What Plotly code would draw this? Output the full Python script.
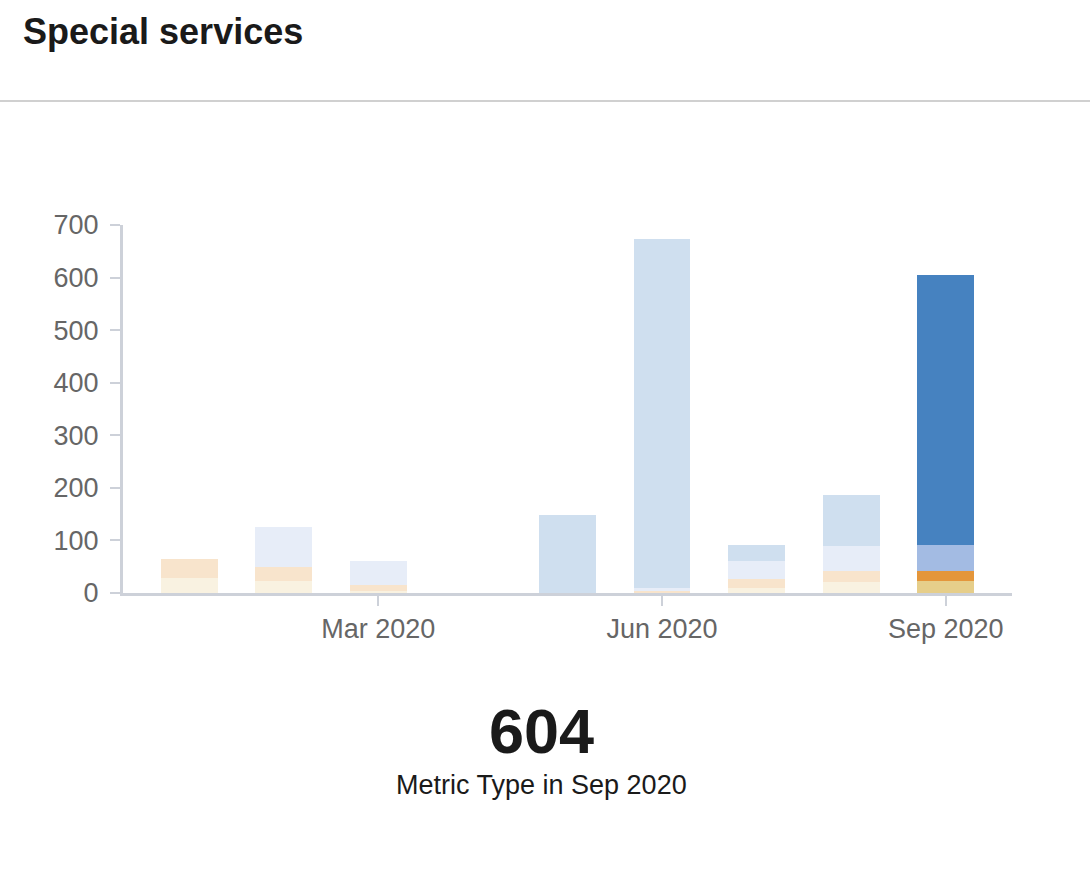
import plotly.graph_objects as go

months = ["Jan 2020", "Feb 2020", "Mar 2020", "Apr 2020", "May 2020",
          "Jun 2020", "Jul 2020", "Aug 2020", "Sep 2020"]
tick_labels = ["Mar 2020", "Jun 2020", "Sep 2020"]

series_names = ["Type A", "Type B", "Type C", "Type D"]
type_a = [29, 22, 3, 0, 0, 0, 10, 21, 23]
type_b = [36, 27, 12, 0, 0, 3, 16, 20, 19]
type_c = [0, 77, 46, 0, 0, 6, 34, 49, 49]
type_d = [0, 0, 0, 0, 148, 664, 31, 96, 513]
series_values = [type_a, type_b, type_c, type_d]
series_colors = ["#E6CE8A", "#E4963B", "#A3BBE3", "#4682C0"]

selected = months[-1]
opacities = [1.0 if m == selected else 0.26 for m in months]

fig = go.Figure()
for name, vals, col in zip(series_names, series_values, series_colors):
    fig.add_trace(go.Bar(
        x=months, y=vals, name=name,
        marker=dict(color=col, opacity=opacities, line=dict(width=0)),
    ))

total_selected = sum(s[-1] for s in series_values)

font_family = "Liberation Sans, Arial, sans-serif"
axis_col = "#CDD1D9"

fig.update_layout(
    width=1090, height=885,
    barmode="stack", bargap=0.4,
    showlegend=False,
    plot_bgcolor="white", paper_bgcolor="white",
    margin=dict(l=123, r=78, t=225, b=292),
    font=dict(family=font_family, color="#666666", size=27),
    xaxis=dict(
        type="category", range=[-0.7, 8.7],
        tickvals=tick_labels, ticktext=tick_labels,
        showline=True, linecolor=axis_col, linewidth=3,
        ticks="outside", ticklen=10, tickwidth=2, tickcolor=axis_col,
        showgrid=False, zeroline=False,
        tickfont=dict(size=27, color="#666666"),
    ),
    yaxis=dict(
        range=[0, 700], tickvals=[0, 100, 200, 300, 400, 500, 600, 700],
        showline=True, linecolor=axis_col, linewidth=3,
        ticks="outside", ticklen=10, tickwidth=2, tickcolor=axis_col,
        showgrid=False, zeroline=False,
        ticklabelstandoff=6,
        tickfont=dict(size=27, color="#666666"),
    ),
    shapes=[dict(
        type="line", xref="paper", yref="paper",
        x0=-0.14, x1=1.09, y0=1.337, y1=1.337,
        line=dict(color="#D0D0D0", width=2),
    )],
    annotations=[
        dict(text="<b>Special services</b>", xref="paper", yref="paper",
             x=-0.115, y=1.5245, xanchor="left", yanchor="middle",
             showarrow=False, font=dict(size=36, color="#1A1A1A", family=font_family)),
        dict(text=f"<b>{total_selected}</b>", xref="paper", yref="paper",
             x=0.4708, y=-0.375, xanchor="center", yanchor="middle",
             showarrow=False, font=dict(size=63, color="#1A1A1A", family=font_family)),
        dict(text=f"Metric Type in {selected[:3]} {selected[-4:]}", xref="paper", yref="paper",
             x=0.4708, y=-0.5217, xanchor="center", yanchor="middle",
             showarrow=False, font=dict(size=27, color="#1A1A1A", family=font_family)),
    ],
)

fig.write_html(
    "out.html",
    config={"displayModeBar": False},
    post_script="document.body.style.margin='0';document.body.style.overflow='hidden';",
)
